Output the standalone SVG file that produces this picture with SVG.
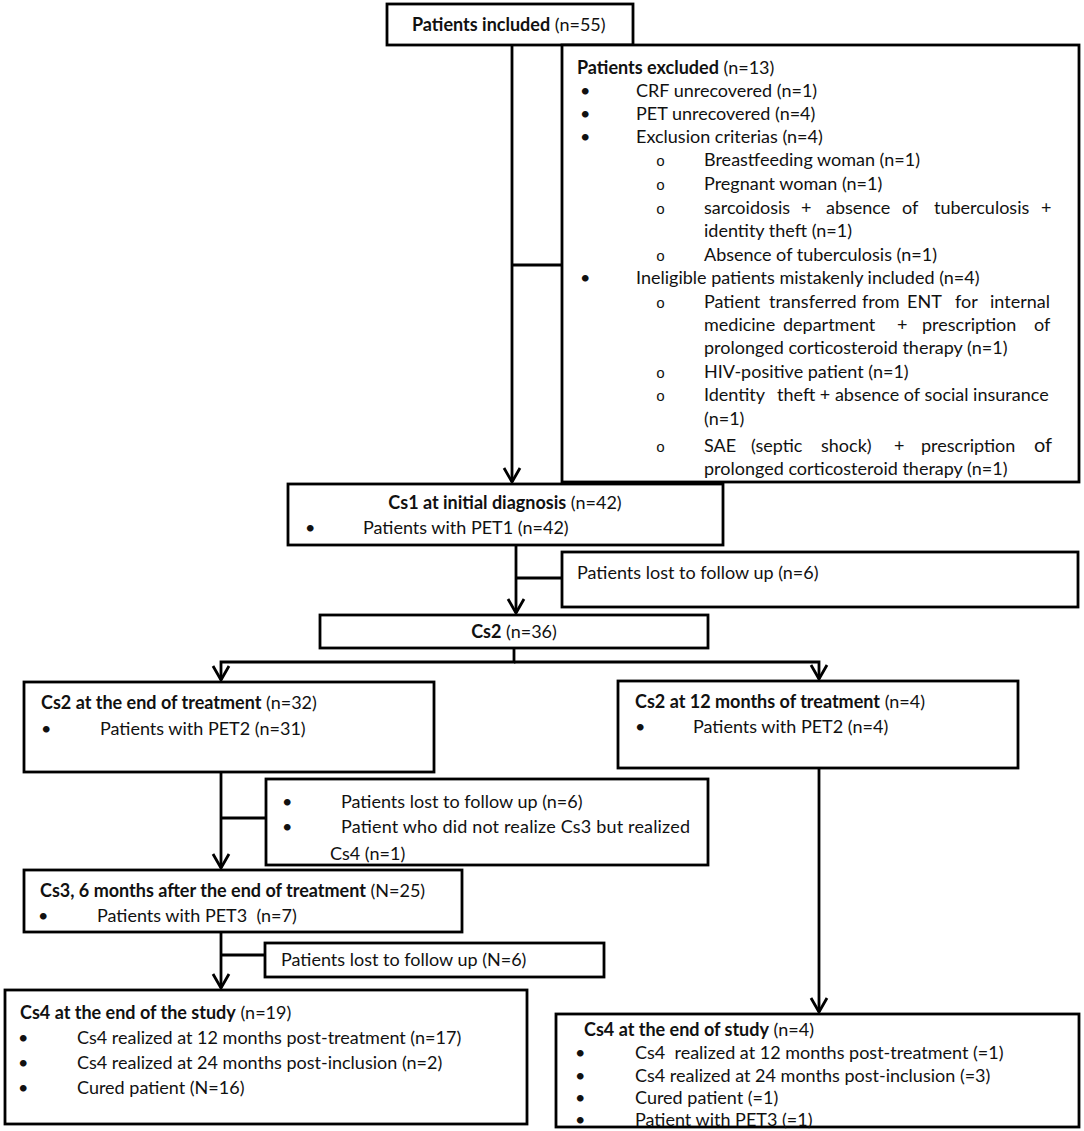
<svg xmlns="http://www.w3.org/2000/svg" width="1084" height="1131" viewBox="0 0 1084 1131">
<style>
text{font-family:Lato,"Liberation Sans",sans-serif;font-size:18px;fill:#111}
.b{font-weight:bold}
.box{fill:#fff;stroke:#000;stroke-width:2.8}
.ln{fill:none;stroke:#000;stroke-width:2.8}
.o{font-family:"Liberation Mono",monospace;font-size:15px}
</style>
<defs>
<marker id="ar" viewBox="-16 -10 18 20" refX="0" refY="0" markerWidth="18" markerHeight="20" markerUnits="userSpaceOnUse" orient="auto">
<path d="M-14,-8 L0,0 L-14,8" fill="none" stroke="#000" stroke-width="2.8"/>
</marker>
</defs>
<rect width="1084" height="1131" fill="#fff"/>
<g id="connectors">
<path class="ln" d="M512,45 V482" marker-end="url(#ar)"/>
<path class="ln" d="M512,265 H562"/>
<path class="ln" d="M516,545 V613" marker-end="url(#ar)"/>
<path class="ln" d="M516,578 H562"/>
<path class="ln" d="M514,648 V662 H221 V680" marker-end="url(#ar)"/>
<path class="ln" d="M514,662 H819 V679" marker-end="url(#ar)"/>
<path class="ln" d="M221,772 V868" marker-end="url(#ar)"/>
<path class="ln" d="M221,818 H266"/>
<path class="ln" d="M221,932 V988" marker-end="url(#ar)"/>
<path class="ln" d="M221,955 H265"/>
<path class="ln" d="M819,768 V1012" marker-end="url(#ar)"/>
</g>
<g id="n_included">
<rect class="box" x="387" y="4" width="246" height="41"/>
<text x="412" y="31"><tspan class="b">Patients included</tspan> (n=55)</text>
</g>
<g id="n_excluded">
<rect class="box" x="562" y="45" width="517" height="437"/>
<text x="577" y="74"><tspan class="b">Patients excluded</tspan> (n=13)</text>
<text x="580" y="97">•</text><text x="636" y="97">CRF unrecovered (n=1)</text>
<text x="580" y="120">•</text><text x="636" y="120">PET unrecovered (n=4)</text>
<text x="580" y="143">•</text><text x="636" y="143">Exclusion criterias (n=4)</text>
<text class="o" x="656" y="166">o</text><text x="704" y="166">Breastfeeding woman (n=1)</text>
<text class="o" x="656" y="190">o</text><text x="704" y="190">Pregnant woman (n=1)</text>
<text class="o" x="656" y="214">o</text><text y="214"><tspan x="704">sarcoidosis</tspan><tspan x="801">+</tspan><tspan x="826">absence</tspan><tspan x="902">of</tspan><tspan x="934">tuberculosis</tspan><tspan x="1041">+</tspan></text>
<text x="704" y="237">identity theft (n=1)</text>
<text class="o" x="656" y="261">o</text><text x="704" y="261">Absence of tuberculosis (n=1)</text>
<text x="580" y="284">•</text><text x="636" y="284">Ineligible patients mistakenly included (n=4)</text>
<text class="o" x="656" y="308">o</text><text y="308"><tspan x="704">Patient</tspan><tspan x="769">transferred</tspan><tspan x="862">from</tspan><tspan x="907">ENT</tspan><tspan x="955">for</tspan><tspan x="990">internal</tspan></text>
<text y="331"><tspan x="704">medicine</tspan><tspan x="783">department</tspan><tspan x="897">+</tspan><tspan x="922">prescription</tspan><tspan x="1034">of</tspan></text>
<text x="704" y="354">prolonged corticosteroid therapy (n=1)</text>
<text class="o" x="656" y="378">o</text><text x="704" y="378">HIV-positive patient (n=1)</text>
<text class="o" x="656" y="401">o</text><text y="401"><tspan x="704">Identity</tspan><tspan x="777">theft + absence of social insurance</tspan></text>
<text x="704" y="425">(n=1)</text>
<text class="o" x="656" y="452">o</text><text y="452"><tspan x="704">SAE</tspan><tspan x="751">(septic</tspan><tspan x="821">shock)</tspan><tspan x="894">+</tspan><tspan x="921">prescription</tspan><tspan x="1034" style="font-size:20px">of</tspan></text>
<text x="704" y="475">prolonged corticosteroid therapy (n=1)</text>
</g>
<g id="n_cs1">
<rect class="box" x="288" y="484" width="435" height="61"/>
<text x="505" y="509" text-anchor="middle"><tspan class="b">Cs1 at initial diagnosis</tspan> (n=42)</text>
<text x="305" y="534">•</text><text x="363" y="534">Patients with PET1 (n=42)</text>
</g>
<g id="n_lost1">
<rect class="box" x="562" y="552" width="516" height="55"/>
<text x="577" y="579">Patients lost to follow up (n=6)</text>
</g>
<g id="n_cs2">
<rect class="box" x="320" y="615" width="388" height="33"/>
<text x="514" y="638" text-anchor="middle"><tspan class="b">Cs2</tspan> (n=36)</text>
</g>
<g id="n_cs2_end">
<rect class="box" x="24" y="682" width="410" height="90"/>
<text x="41" y="709"><tspan class="b">Cs2 at the end of treatment</tspan> (n=32)</text>
<text x="41" y="735">•</text><text x="100" y="735">Patients with PET2 (n=31)</text>
</g>
<g id="n_cs2_12m">
<rect class="box" x="618" y="681" width="400" height="87"/>
<text x="635" y="708"><tspan class="b">Cs2 at 12 months of treatment</tspan> (n=4)</text>
<text x="635" y="733">•</text><text x="693" y="733">Patients with PET2 (n=4)</text>
</g>
<g id="n_lost2">
<rect class="box" x="266" y="779" width="442" height="86"/>
<text x="282" y="808">•</text><text x="341" y="808">Patients lost to follow up (n=6)</text>
<text x="282" y="833">•</text><text x="341" y="833" textLength="349" lengthAdjust="spacing">Patient who did not realize Cs3 but realized</text>
<text x="330" y="860">Cs4 (n=1)</text>
</g>
<g id="n_cs3">
<rect class="box" x="24" y="870" width="438" height="62"/>
<text x="40" y="897"><tspan class="b">Cs3, 6 months after the end of treatment</tspan> (N=25)</text>
<text x="38" y="922">•</text><text x="97" y="922" xml:space="preserve">Patients with PET3  (n=7)</text>
</g>
<g id="n_lost3">
<rect class="box" x="265" y="943" width="339" height="34"/>
<text x="281" y="966">Patients lost to follow up (N=6)</text>
</g>
<g id="n_cs4_left">
<rect class="box" x="5" y="990" width="522" height="134"/>
<text x="20" y="1019"><tspan class="b">Cs4 at the end of the study</tspan> (n=19)</text>
<text x="18" y="1044">•</text><text x="77" y="1044">Cs4 realized at 12 months post-treatment (n=17)</text>
<text x="18" y="1069">•</text><text x="77" y="1069">Cs4 realized at 24 months post-inclusion (n=2)</text>
<text x="18" y="1094">•</text><text x="77" y="1094">Cured patient (N=16)</text>
</g>
<g id="n_cs4_right">
<rect class="box" x="556" y="1014" width="523" height="113"/>
<text x="584" y="1036"><tspan class="b">Cs4 at the end of study</tspan> (n=4)</text>
<text x="575" y="1059">•</text><text x="635" y="1059" xml:space="preserve">Cs4  realized at 12 months post-treatment (=1)</text>
<text x="575" y="1082">•</text><text x="635" y="1082">Cs4 realized at 24 months post-inclusion (=3)</text>
<text x="575" y="1104">•</text><text x="635" y="1104">Cured patient (=1)</text>
<text x="575" y="1126">•</text><text x="635" y="1126">Patient with PET3 (=1)</text>
</g>
</svg>
